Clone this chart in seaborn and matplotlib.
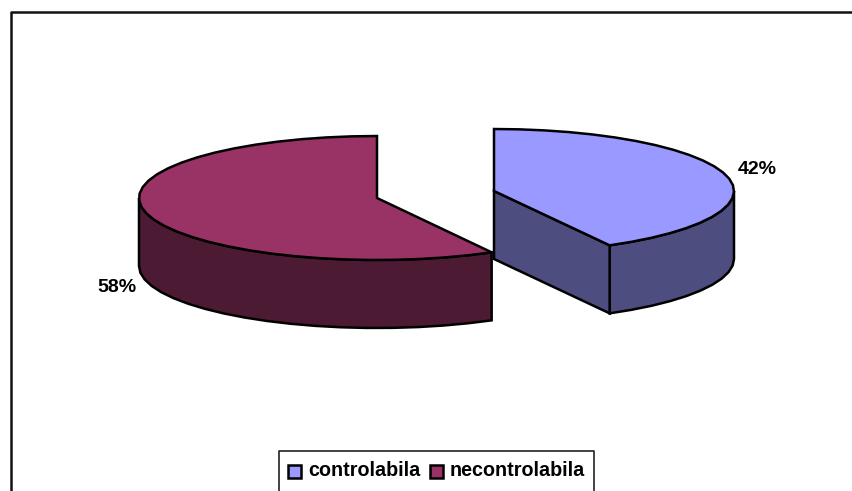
import numpy as np
import pandas as pd
import seaborn as sns
from matplotlib import pyplot as plt
from matplotlib.patches import Rectangle

categories = ["controlabila", "necontrolabila"]
shares = [42, 58]
top_colors = ["#9999FF", "#993366"]
side_colors = ["#4D4D80", "#4D1A33"]

# pixel layout of the 3d pie
RY, DEPTH = 62, 68
LINE = 1.8


def arc(cx, cy, rx, start, end, step=6):
    n = max(int(abs(end - start) / step), 2)
    t = np.radians(np.linspace(start, end, n + 1))
    return cx + rx * np.cos(t), cy - RY * np.sin(t)


def draw_slice(ax, cx, cy, rx, start, end, top, side):
    # start and end in degrees, counter clockwise
    x, y = arc(cx, cy, rx, start, end)
    sx = cx + rx * np.cos(np.radians(start))
    sy = cy - RY * np.sin(np.radians(start))

    # outer wall, only the part facing front
    lo, hi = max(start, 180), min(end, 360)
    if start < 0:
        lo, hi = 360 + start, 360
    wx, wy = arc(cx, cy, rx, lo, hi)
    ax.fill(np.r_[wx, wx[::-1]], np.r_[wy, wy[::-1] + DEPTH], fc=side, ec="black", lw=LINE, zorder=2)

    # cut face of the right slice
    if start < 0:
        ax.fill([cx, sx, sx, cx], [cy, sy, sy + DEPTH, cy + DEPTH], fc=side, ec="black", lw=LINE, zorder=2)

    ax.fill(np.r_[cx, x], np.r_[cy, y], fc=top, ec="black", lw=LINE, zorder=3)


sns.set_theme(style="white")
plt.rcParams["font.family"] = ["Liberation Sans", "DejaVu Sans"]

df = pd.DataFrame({"category": categories, "share": shares})
angles = df["share"] / df["share"].sum() * 360

fig = plt.figure(figsize=(8.52, 4.91), dpi=100)
ax = fig.add_axes([0, 0, 1, 1])
ax.set_xlim(0, 852)
ax.set_ylim(491, 0)
ax.axis("off")

# chart frame, runs off the bottom and right of the picture
ax.plot([11, 11, 860], [495, 12, 12], color="#111111", lw=1.8, zorder=1)

# first slice goes clockwise from 12 o'clock, second counter clockwise
draw_slice(ax, 494, 191, 240, 90 - angles[0], 90, top_colors[0], side_colors[0])
draw_slice(ax, 377, 198, 238, 90, 90 + angles[1], top_colors[1], side_colors[1])

ax.text(757, 169, f"{shares[0]}%", ha="center", va="center", fontsize=14, fontweight="bold", color="black")
ax.text(117, 287, f"{shares[1]}%", ha="center", va="center", fontsize=14, fontweight="bold", color="black")

# legend box, also cut by the bottom edge
ax.plot([279, 279, 594, 594], [495, 451, 451, 495], color="#222222", lw=1.2, zorder=4)
for i, name in enumerate(categories):
    bx = [288, 430][i]
    ax.add_patch(Rectangle((bx, 465), 13, 13, fc=top_colors[i], ec="black", lw=1.8, zorder=4))
    ax.text(bx + 20, 471, name, ha="left", va="center", fontsize=14.2, fontweight="bold", color="black", zorder=4)

fig.savefig("out.png", dpi=100)
